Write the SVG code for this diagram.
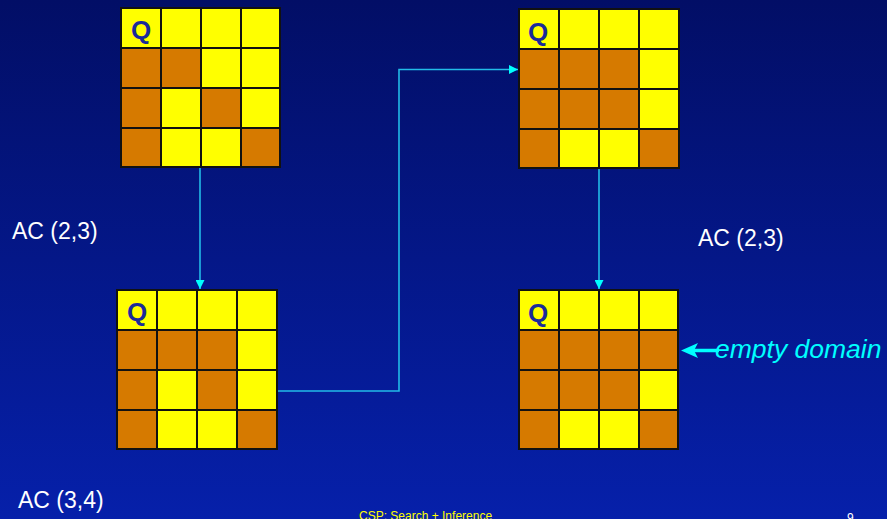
<svg xmlns="http://www.w3.org/2000/svg" width="887" height="519" viewBox="0 0 887 519">
  <defs>
    <linearGradient id="bg" x1="0" y1="0" x2="0" y2="1">
      <stop offset="0" stop-color="#020E66"/>
      <stop offset="1" stop-color="#0620AA"/>
    </linearGradient>
    <marker id="tip" viewBox="0 0 10 10" refX="10" refY="5" markerWidth="9" markerHeight="9" markerUnits="userSpaceOnUse" orient="auto">
      <path d="M0,0 L10,5 L0,10 Z" fill="#00FFFF"/>
    </marker>
  </defs>
  <style>
    .y { fill: #FFFF00; stroke: #111; stroke-width: 2; }
    .o { fill: #D67A00; stroke: #111; stroke-width: 2; }
    .q { font-family: "Liberation Sans", Arial, sans-serif; font-weight: bold; font-size: 26px; fill: #1A2A9A; }
    .lbl { font-family: "Liberation Sans", Arial, sans-serif; font-size: 23px; fill: #FFFFFF; }
    .conn { fill: none; stroke: #22BBE8; stroke-width: 1.6; }
  </style>

  <rect x="0" y="0" width="887" height="519" fill="url(#bg)"/>

  <!-- board after first assignment -->
  <g id="board1" transform="translate(121,8)">
    <rect class="y" x="0" y="0" width="40" height="40"/><rect class="y" x="40" y="0" width="40" height="40"/><rect class="y" x="80" y="0" width="40" height="40"/><rect class="y" x="120" y="0" width="39" height="40"/>
    <rect class="o" x="0" y="40" width="40" height="40"/><rect class="o" x="40" y="40" width="40" height="40"/><rect class="y" x="80" y="40" width="40" height="40"/><rect class="y" x="120" y="40" width="39" height="40"/>
    <rect class="o" x="0" y="80" width="40" height="40"/><rect class="y" x="40" y="80" width="40" height="40"/><rect class="o" x="80" y="80" width="40" height="40"/><rect class="y" x="120" y="80" width="39" height="40"/>
    <rect class="o" x="0" y="120" width="40" height="39"/><rect class="y" x="40" y="120" width="40" height="39"/><rect class="y" x="80" y="120" width="40" height="39"/><rect class="o" x="120" y="120" width="39" height="39"/>
    <text class="q" x="10" y="31">Q</text>
  </g>

  <!-- board after AC (2,3) -->
  <g id="board2" transform="translate(519,9)">
    <rect class="y" x="0" y="0" width="40" height="40"/><rect class="y" x="40" y="0" width="40" height="40"/><rect class="y" x="80" y="0" width="40" height="40"/><rect class="y" x="120" y="0" width="40" height="40"/>
    <rect class="o" x="0" y="40" width="40" height="40"/><rect class="o" x="40" y="40" width="40" height="40"/><rect class="o" x="80" y="40" width="40" height="40"/><rect class="y" x="120" y="40" width="40" height="40"/>
    <rect class="o" x="0" y="80" width="40" height="40"/><rect class="o" x="40" y="80" width="40" height="40"/><rect class="o" x="80" y="80" width="40" height="40"/><rect class="y" x="120" y="80" width="40" height="40"/>
    <rect class="o" x="0" y="120" width="40" height="39"/><rect class="y" x="40" y="120" width="40" height="39"/><rect class="y" x="80" y="120" width="40" height="39"/><rect class="o" x="120" y="120" width="40" height="39"/>
    <text class="q" x="9" y="32">Q</text>
  </g>

  <!-- board after AC (2,3) on the left branch -->
  <g id="board3" transform="translate(117,290)">
    <rect class="y" x="0" y="0" width="40" height="40"/><rect class="y" x="40" y="0" width="40" height="40"/><rect class="y" x="80" y="0" width="40" height="40"/><rect class="y" x="120" y="0" width="40" height="40"/>
    <rect class="o" x="0" y="40" width="40" height="40"/><rect class="o" x="40" y="40" width="40" height="40"/><rect class="o" x="80" y="40" width="40" height="40"/><rect class="y" x="120" y="40" width="40" height="40"/>
    <rect class="o" x="0" y="80" width="40" height="40"/><rect class="y" x="40" y="80" width="40" height="40"/><rect class="o" x="80" y="80" width="40" height="40"/><rect class="y" x="120" y="80" width="40" height="40"/>
    <rect class="o" x="0" y="120" width="40" height="39"/><rect class="y" x="40" y="120" width="40" height="39"/><rect class="y" x="80" y="120" width="40" height="39"/><rect class="o" x="120" y="120" width="40" height="39"/>
    <text class="q" x="10" y="31">Q</text>
  </g>

  <!-- board with an empty domain -->
  <g id="board4" transform="translate(519,290)">
    <rect class="y" x="0" y="0" width="40" height="40"/><rect class="y" x="40" y="0" width="40" height="40"/><rect class="y" x="80" y="0" width="40" height="40"/><rect class="y" x="120" y="0" width="39" height="40"/>
    <rect class="o" x="0" y="40" width="40" height="40"/><rect class="o" x="40" y="40" width="40" height="40"/><rect class="o" x="80" y="40" width="40" height="40"/><rect class="o" x="120" y="40" width="39" height="40"/>
    <rect class="o" x="0" y="80" width="40" height="40"/><rect class="o" x="40" y="80" width="40" height="40"/><rect class="o" x="80" y="80" width="40" height="40"/><rect class="y" x="120" y="80" width="39" height="40"/>
    <rect class="o" x="0" y="120" width="40" height="39"/><rect class="y" x="40" y="120" width="40" height="39"/><rect class="y" x="80" y="120" width="40" height="39"/><rect class="o" x="120" y="120" width="39" height="39"/>
    <text class="q" x="9" y="32">Q</text>
  </g>

  <g id="connectors">
    <path class="conn" d="M200,168 L200,289" marker-end="url(#tip)"/>
    <path class="conn" d="M278,391 L399,391 L399,69.5 L518,69.5" marker-end="url(#tip)"/>
    <path class="conn" d="M599,169 L599,289" marker-end="url(#tip)"/>
    <!-- pointer to the wiped-out row -->
    <path d="M719,350.5 L693,350.5" stroke="#00FFFF" stroke-width="3.5" fill="none"/>
    <path d="M681,350.5 L698,343 L694,350.5 L698,358 Z" fill="#00FFFF"/>
  </g>

  <g id="labels">
    <text class="lbl" x="12" y="239">AC (2,3)</text>
    <text class="lbl" x="698" y="246">AC (2,3)</text>
    <text class="lbl" x="18" y="508">AC (3,4)</text>
    <text x="715" y="358" font-family="Liberation Sans, Arial, sans-serif" font-style="italic" font-size="26.5" fill="#00FFFF">empty domain</text>
    <text x="359" y="520" font-family="Liberation Sans, Arial, sans-serif" font-size="12" fill="#FFFF00">CSP: Search + Inference</text>
    <text x="847" y="522" font-family="Liberation Sans, Arial, sans-serif" font-size="12" fill="#FFFFFF">9</text>
  </g>
</svg>
